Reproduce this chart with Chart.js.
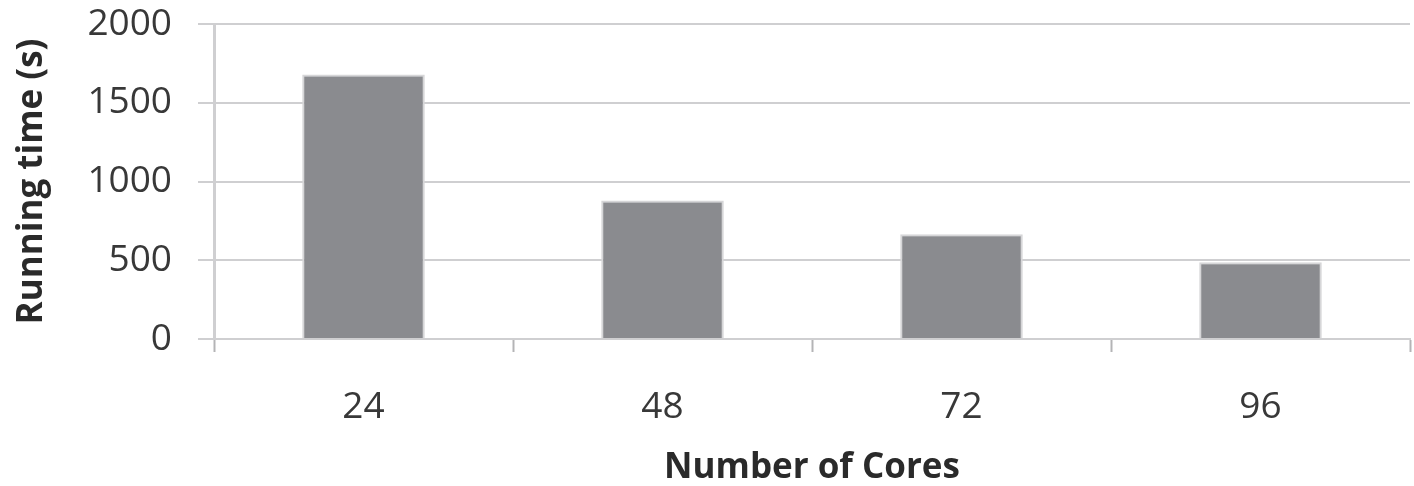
<!DOCTYPE html>
<html>
<head>
<meta charset="utf-8">
<script src="https://cdn.jsdelivr.net/npm/chart.js@4.4.1/dist/chart.umd.min.js"></script>
<style>
  html, body { margin: 0; padding: 0; background: #ffffff; }
  #wrap { width: 1414px; height: 486px; }
</style>
</head>
<body>
<div id="wrap"><canvas id="c" width="1414" height="486"></canvas></div>
<script>
// Running time per core count
const cores = ['24', '48', '72', '96'];
const runningTime = [1680, 880, 665, 487];
const yTicks = [0, 500, 1000, 1500, 2000];

const gridGray = '#cfcfd1';
const textGray = '#383838';

new Chart(document.getElementById('c'), {
  type: 'bar',
  data: {
    labels: cores,
    datasets: [{
      data: runningTime,
      backgroundColor: '#8a8b8f',
      borderColor: '#d6d6d8',
      borderWidth: 2,
      barPercentage: 0.41,
      categoryPercentage: 1.0
    }]
  },
  options: {
    responsive: false,
    animation: false,
    devicePixelRatio: 1,
    layout: { padding: { top: 0, right: 4, left: 0, bottom: 0 } },
    plugins: { legend: { display: false }, tooltip: { enabled: false } },
    scales: {
      x: {
        afterFit: s => { s.height = 147; },
        grid: {
          offset: true,
          drawOnChartArea: false,
          drawTicks: true,
          tickLength: 13,
          tickColor: '#b4b4b6',
          tickWidth: 2
        },
        border: { color: gridGray, width: 2 },
        ticks: {
          color: textGray,
          padding: 33,
          font: { family: 'Open Sans', size: 37 }
        },
        title: {
          display: true,
          text: 'Number of Cores',
          color: '#2a2a2a',
          padding: { top: 0, bottom: 0 },
          font: { family: 'Open Sans', size: 35, weight: 'bold', lineHeight: 1 }
        }
      },
      y: {
        min: 0,
        max: 2000,
        afterFit: s => { s.width = 214; s.paddingTop = 24; s.paddingBottom = 0; },
        afterBuildTicks: s => { s.ticks = yTicks.map(v => ({ value: v })); },
        grid: {
          color: gridGray,
          lineWidth: 2,
          drawTicks: true,
          tickLength: 16,
          tickColor: gridGray
        },
        border: { color: gridGray, width: 3 },
        ticks: {
          color: textGray,
          padding: 26,
          font: { family: 'Open Sans', size: 37 },
          callback: v => String(v)
        },
        title: {
          display: true,
          text: 'Running time (s)',
          color: '#2a2a2a',
          padding: { top: 15, bottom: 0 },
          font: { family: 'Open Sans', size: 35, weight: 'bold', lineHeight: 1 }
        }
      }
    }
  }
});
</script>
</body>
</html>
